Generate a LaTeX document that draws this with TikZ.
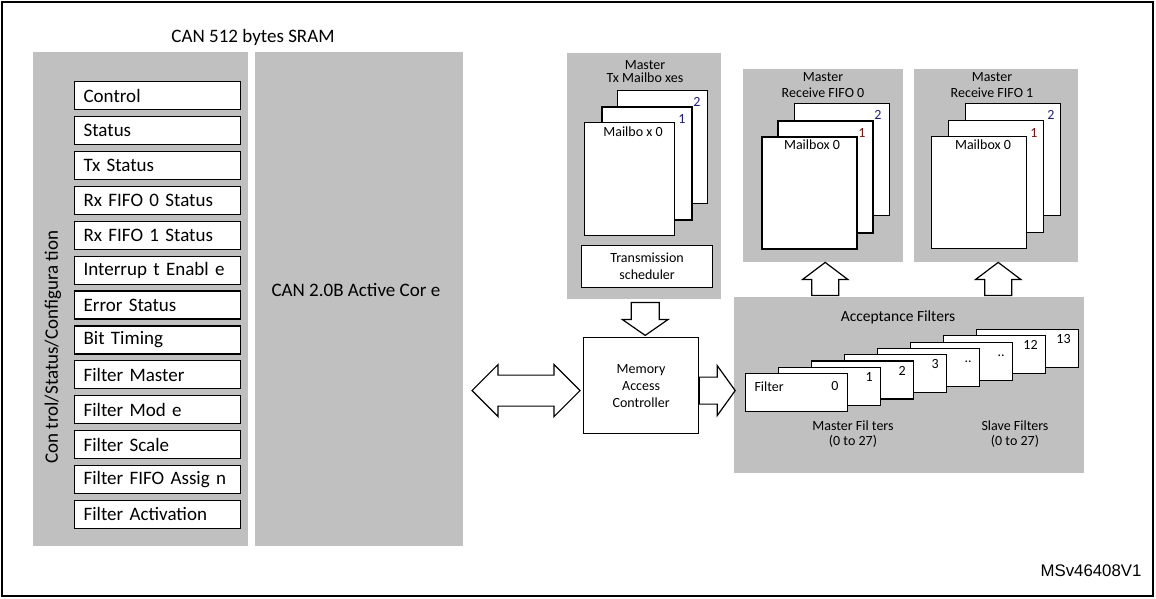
\documentclass[tikz,border=0pt]{standalone}
\usepackage{fontspec}
\setmainfont{Carlito}
\newfontfamily\arialfont{Liberation Sans}
\definecolor{panelgray}{RGB}{192,192,192}
\definecolor{numblue}{RGB}{30,30,120}
\definecolor{numred}{RGB}{120,20,20}
\begin{document}
\begin{tikzpicture}[x=1pt, y=-1pt,
    big/.style={font=\fontsize{19}{21}\selectfont},
    small/.style={font=\fontsize{14}{15}\selectfont},
    panel/.style={fill=panelgray, inner sep=0, anchor=north west},
    reg/.style={draw, fill=white, line width=1.2, anchor=north west, minimum height=28,
        text width=148, inner xsep=9, inner ysep=0, align=left, big},
    page/.style={draw, fill=white, line width=1.2, anchor=north west, inner sep=0},
    heavy/.style={line width=2.4},
    blockarrow/.style={draw, fill=white, line width=1.2, line join=miter}]
    \useasboundingbox (0,0) rectangle (1156,599);
    \draw[line width=1.2] (2,2) rectangle (1153,596);

    % SRAM side: registers and core
    \node[big] (sram) at (253,37) {CAN 512 bytes SRAM};
    \node[panel, minimum width=215, minimum height=494] (regpanel) at (33,52) {};
    \node[panel, minimum width=208, minimum height=494] (corepanel) at (255,52) {};
    \node[big, rotate=90] (regside) at (53,347) {Con trol/Status/Configura tion};
    \foreach \txt [count=\i from 0] in {Control, Status, Tx Status, Rx FIFO 0 Status,
        Rx FIFO 1 Status, Interrup t Enabl e, Error Status, Bit Timing, Filter Master,
        Filter Mod e, Filter Scale, Filter FIFO Assig n, Filter Activation}
        \node[reg] (reg\i) at (74,81+34.9*\i) {\txt};
    \node[big, anchor=west] (core) at (268,290) {CAN 2.0B Active Cor e};

    % Tx mailboxes
    \node[panel, minimum width=154, minimum height=246] (txpanel) at (567,53) {};
    \node[small, align=center, font=\fontsize{14}{13}\selectfont] (txtitle) at (645,72) {Master\\Tx Mailbo xes};
    \node[page, minimum width=90, minimum height=113] (txbox2) at (617,90) {};
    \node[page, heavy, minimum width=90, minimum height=113] (txbox1) at (601,106) {};
    \node[page, minimum width=90, minimum height=113] (txbox0) at (584,122) {};
    \node[small, text=numblue] (txnum2) at (697,102) {2};
    \node[small, text=numblue] (txnum1) at (682,119) {1};
    \node[small] (txmb0) at (633,132) {Mailbo x 0};
    \node[draw, fill=white, line width=1.2, anchor=north west, minimum width=131, minimum height=42,
        small, align=center, font=\fontsize{14}{17}\selectfont] (sched) at (581,245) {Transmission\\scheduler};

    % Rx FIFO 0
    \node[panel, minimum width=160, minimum height=193] (fifo0) at (743,69) {};
    \node[small, align=center, font=\fontsize{14}{16}\selectfont] (fifo0title) at (823,85) {Master\\Receive FIFO 0};
    \node[page, minimum width=95, minimum height=112] (fifo0box2) at (794,103) {};
    \node[page, heavy, minimum width=95, minimum height=112] (fifo0box1) at (777,120) {};
    \node[page, heavy, minimum width=95, minimum height=112] (fifo0box0) at (761,136) {};
    \node[small, text=numblue] (fifo0num2) at (878,115) {2};
    \node[small, text=numred] (fifo0num1) at (862,133) {1};
    \node[small] (fifo0mb0) at (812,145) {Mailbox 0};

    % Rx FIFO 1
    \node[panel, minimum width=164, minimum height=193] (fifo1) at (914,69) {};
    \node[small, align=center, font=\fontsize{14}{16}\selectfont] (fifo1title) at (992,85) {Master\\Receive FIFO 1};
    \node[page, minimum width=95, minimum height=112] (fifo1box2) at (965,103) {};
    \node[page, minimum width=95, minimum height=112] (fifo1box1) at (948,120) {};
    \node[page, minimum width=95, minimum height=112] (fifo1box0) at (931,136) {};
    \node[small, text=numblue] (fifo1num2) at (1051,115) {2};
    \node[small, text=numred] (fifo1num1) at (1034,133) {1};
    \node[small] (fifo1mb0) at (983,145) {Mailbox 0};

    % Acceptance filters
    \node[panel, minimum width=350, minimum height=176] (accpanel) at (734,297) {};
    \node[small, font=\fontsize{15.5}{16}\selectfont] (acctitle) at (898,317) {Acceptance Filters};
    \foreach \k/\lab in {7/13, 6/12, 5/.., 4/.., 3/3, 2/2, 1/1} {
        \node[page, minimum width=102, minimum height=38] (filt\k) at (745+33*\k,373-6.3*\k) {};
        \node[small, anchor=north east] (fnum\k) at ([xshift=-5pt, yshift=-2pt]filt\k.north east) {\vphantom{0}\lab};
    }
    \node[page, minimum width=102, minimum height=38] (filt0) at (745,373) {};
    \node[small] (fnum0) at (835,386) {0};
    \node[small, anchor=west] (filtname) at (751,387) {Filter};
    \node[small, align=center] (masterf) at (853,434) {Master Fil ters\\(0 to 27)};
    \node[small, align=center] (slavef) at (1015,434) {Slave Filters\\ (0 to 27)};

    % Memory access controller
    \node[draw, fill=white, line width=1.2, anchor=north west, minimum width=115, minimum height=96,
        small, align=center, font=\fontsize{14}{17}\selectfont] (mac) at (583,337) {Memory\\Access\\Controller};

    % block arrows
    \draw[blockarrow] ([xshift=1pt, yshift=-3pt]txpanel.south) -- ++(14,0) -- ++(0,17) -- ++(9,0)
        -- ++(-23,16) -- ++(-23,-16) -- ++(9,0) -- ++(0,-17) -- cycle;
    \draw[blockarrow] ([xshift=2pt]fifo0.south) -- ++(22.5,17) -- ++(-9,0) -- ++(0,16) -- ++(-27,0)
        -- ++(0,-16) -- ++(-9,0) -- cycle;
    \draw[blockarrow] ([xshift=2pt]fifo1.south) -- ++(22.5,17) -- ++(-9,0) -- ++(0,16) -- ++(-27,0)
        -- ++(0,-16) -- ++(-9,0) -- cycle;
    \draw[blockarrow] ([xshift=-3pt, yshift=-5pt]mac.west) -- ++(-26,-26) -- ++(0,10.5) -- ++(-56,0)
        -- ++(0,-10.5) -- ++(-26,26) -- ++(26,26) -- ++(0,-10.5) -- ++(56,0) -- ++(0,10.5) -- cycle;
    \draw[blockarrow] ([yshift=-5pt]mac.east) -- ++(0,-13.5) -- ++(18,0) -- ++(0,-11.5) -- ++(18,25)
        -- ++(-18,25) -- ++(0,-11.5) -- ++(-18,0) -- cycle;

    \node[font=\arialfont\fontsize{16.8}{18}\selectfont, anchor=east] (msv) at (1145,571) {MSv46408V1};
\end{tikzpicture}
\end{document}
